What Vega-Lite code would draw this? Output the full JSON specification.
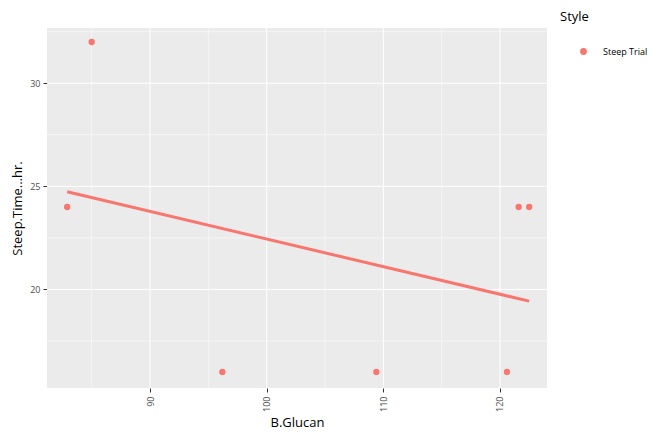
{
  "$schema": "https://vega.github.io/schema/vega-lite/v6.json",
  "autosize": {"type": "none"},
  "padding": {"left": 47, "top": 28, "right": 116, "bottom": 46},
  "width": 500,
  "height": 360,
  "background": "white",
  "config": {
    "view": {"fill": "#EBEBEB", "stroke": null},
    "font": "Open Sans",
    "axis": {
      "grid": false,
      "domain": false,
      "tickColor": "#333333",
      "tickSize": 4,
      "labelColor": "#4D4D4D",
      "labelFontSize": 9,
      "titleColor": "#000000",
      "titleFontSize": 13,
      "titleFontWeight": "normal"
    }
  },
  "datasets": {
    "pts": [
      {"glucan": 82.9, "steep": 24, "style": "Steep Trial"},
      {"glucan": 85.0, "steep": 32, "style": "Steep Trial"},
      {"glucan": 96.2, "steep": 16, "style": "Steep Trial"},
      {"glucan": 109.4, "steep": 16, "style": "Steep Trial"},
      {"glucan": 120.6, "steep": 16, "style": "Steep Trial"},
      {"glucan": 121.6, "steep": 24, "style": "Steep Trial"},
      {"glucan": 122.5, "steep": 24, "style": "Steep Trial"}
    ],
    "vgrid": [
      {"v": 85, "kind": "minor"}, {"v": 95, "kind": "minor"}, {"v": 105, "kind": "minor"}, {"v": 115, "kind": "minor"},
      {"v": 90, "kind": "major"}, {"v": 100, "kind": "major"}, {"v": 110, "kind": "major"}, {"v": 120, "kind": "major"}
    ],
    "hgrid": [
      {"v": 17.5, "kind": "minor"}, {"v": 22.5, "kind": "minor"}, {"v": 27.5, "kind": "minor"}, {"v": 32.5, "kind": "minor"},
      {"v": 20, "kind": "major"}, {"v": 25, "kind": "major"}, {"v": 30, "kind": "major"}
    ]
  },
  "layer": [
    {
      "data": {"name": "vgrid"},
      "mark": {"type": "rule", "color": "white"},
      "encoding": {
        "x": {"field": "v", "type": "quantitative", "scale": {"domain": [81.17, 124.03], "nice": false, "zero": false}},
        "strokeWidth": {"field": "kind", "type": "nominal", "scale": {"domain": ["minor", "major"], "range": [0.5, 1]}, "legend": null}
      }
    },
    {
      "data": {"name": "hgrid"},
      "mark": {"type": "rule", "color": "white"},
      "encoding": {
        "y": {"field": "v", "type": "quantitative", "scale": {"domain": [15.22, 32.68], "nice": false, "zero": false}},
        "strokeWidth": {"field": "kind", "type": "nominal", "scale": {"domain": ["minor", "major"], "range": [0.5, 1]}, "legend": null}
      }
    },
    {
      "data": {"name": "pts"},
      "mark": {"type": "circle", "size": 40, "opacity": 1},
      "encoding": {
        "x": {
          "field": "glucan", "type": "quantitative",
          "axis": {"title": "B.Glucan", "values": [90, 100, 110, 120], "labelAngle": 270, "labelAlign": "right", "labelBaseline": "middle", "labelPadding": 4, "titleY": 34, "titleBaseline": "middle"}
        },
        "y": {
          "field": "steep", "type": "quantitative",
          "axis": {"title": "Steep.Time...hr.", "values": [20, 25, 30], "labelPadding": 3, "titleX": -30, "titleBaseline": "middle"}
        },
        "color": {
          "field": "style", "type": "nominal", "scale": {"range": ["#F8766D"]},
          "legend": {"title": "Style", "orient": "none", "legendX": 513, "legendY": -17, "titleFontSize": 13, "titleFontWeight": "normal", "titleColor": "#000000", "labelFontSize": 9, "labelColor": "#000000", "symbolType": "circle", "symbolSize": 28, "titlePadding": 23, "labelOffset": 15, "symbolOffset": 19}
        }
      }
    },
    {
      "data": {"name": "pts"},
      "transform": [
        {"regression": "steep", "on": "glucan", "groupby": ["style"], "method": "linear"}
      ],
      "mark": {"type": "line", "strokeWidth": 3},
      "encoding": {
        "x": {"field": "glucan", "type": "quantitative"},
        "y": {"field": "steep", "type": "quantitative"},
        "color": {"field": "style", "type": "nominal"}
      }
    }
  ]
}
